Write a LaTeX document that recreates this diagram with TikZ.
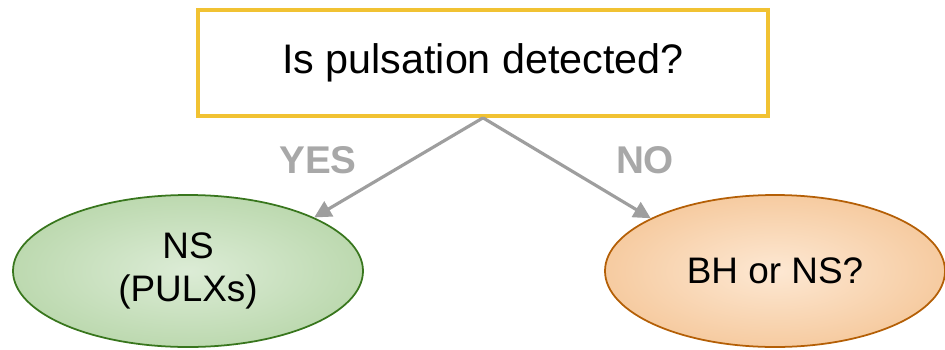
\documentclass[tikz,border=0pt]{standalone}
\usepackage{fontspec}
\setmainfont{Liberation Sans}
\usetikzlibrary{arrows.meta,positioning,shapes.geometric}
\definecolor{boxline}{HTML}{F1C232}
\definecolor{linkgray}{HTML}{9E9E9E}
\definecolor{answergray}{HTML}{A8A8A8}
\definecolor{nsline}{HTML}{38761D}
\definecolor{nsin}{HTML}{DCECD6}
\definecolor{nsout}{HTML}{9DC689}
\definecolor{bhline}{HTML}{B45F06}
\definecolor{bhin}{HTML}{FDE8D3}
\definecolor{bhout}{HTML}{EFAE6E}
\pgfdeclareradialshading{nsshade}{\pgfpoint{0bp}{0bp}}{color(0bp)=(nsin); color(50bp)=(nsout); color(72bp)=(nsout)}
\pgfdeclareradialshading{bhshade}{\pgfpoint{0bp}{0bp}}{color(0bp)=(bhin); color(50bp)=(bhout); color(72bp)=(bhout)}
\tikzset{
  question/.style={draw=boxline,line width=2.1pt,fill=white,align=center,
    minimum width=11.4cm,minimum height=2.12cm,font=\fontsize{23.5}{28}\selectfont},
  outcome/.style={ellipse,line width=1pt,align=center,inner sep=0pt,
    minimum width=7cm,minimum height=3.04cm,font=\fontsize{21}{24.5}\selectfont},
  arrow/.style={-{Triangle[length=3.4mm,width=3.4mm]},draw=linkgray,line width=1.8pt},
  answer/.style={font=\bfseries\fontsize{22}{26}\selectfont,text=answergray}
}
\begin{document}
\begin{tikzpicture}
        \useasboundingbox (0,0) rectangle (18.9,-6.98);
        \node[question] (q) at (9.66,-1.26) {Is pulsation detected?};
        \node[outcome,draw=nsline,shading=nsshade] (ns) at (3.76,-5.42) {NS\\(PULXs)};
        \node[outcome,draw=bhline,shading=bhshade,minimum width=6.8cm] (bh) at (15.5,-5.42) {BH or NS?};
        \draw[arrow] (q.south) -- (ns.23);
        \draw[arrow] (q.south) -- (bh.157);
        \node[answer] (yes) at (6.36,-3.2) {YES};
        \node[answer] (no) at (12.9,-3.2) {NO};
      \end{tikzpicture}
\end{document}
